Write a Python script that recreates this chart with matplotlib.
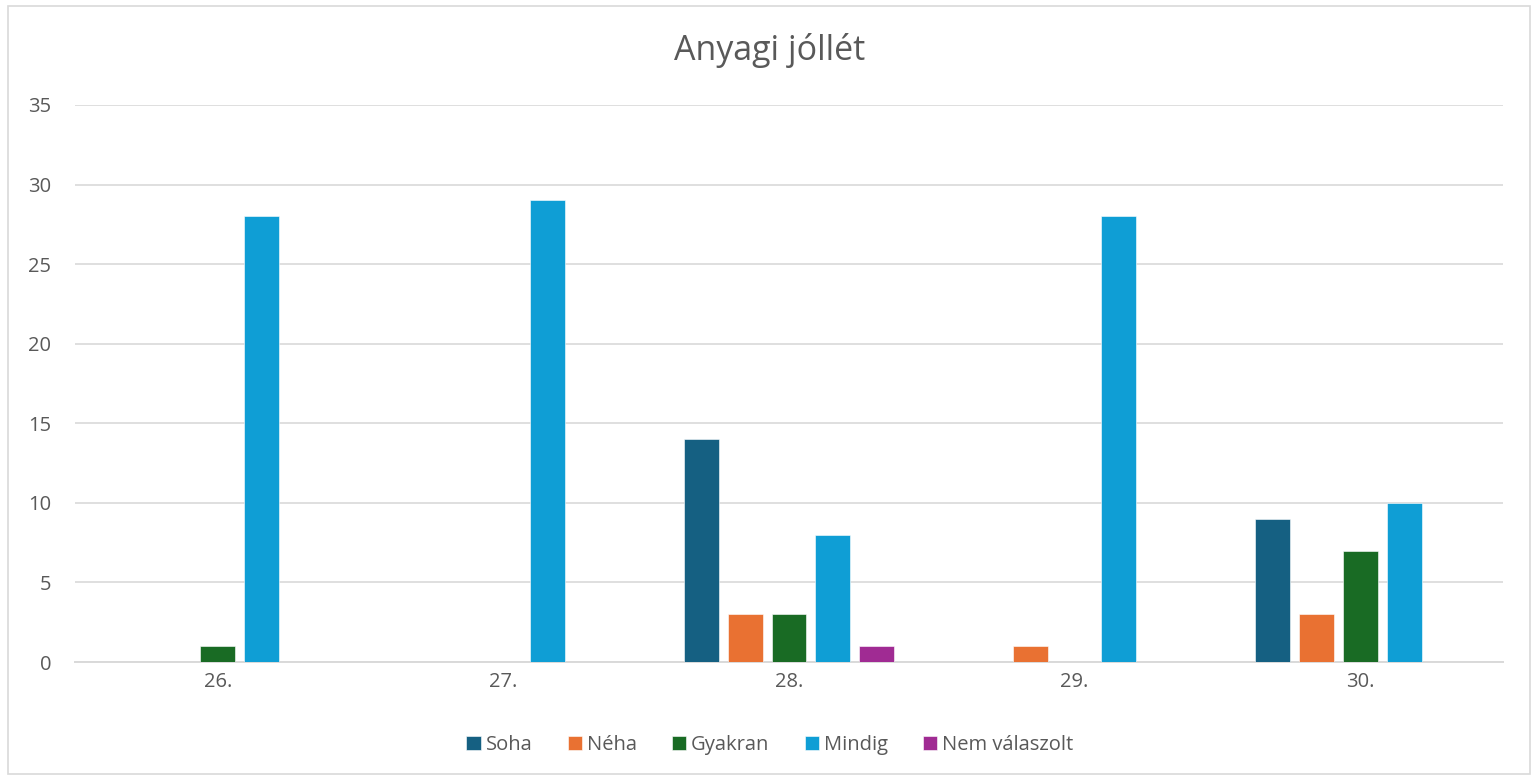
import matplotlib.pyplot as plt
import numpy as np
from matplotlib.patches import Rectangle

# Survey answers per question
questions = ["26.", "27.", "28.", "29.", "30."]
soha = [0, 0, 14, 0, 9]
neha = [0, 0, 3, 1, 3]
gyakran = [1, 0, 3, 0, 7]
mindig = [28, 29, 8, 28, 10]
nem_valaszolt = [0, 0, 1, 0, 0]

series_names = ["Soha", "Néha", "Gyakran", "Mindig", "Nem válaszolt"]
series_values = [soha, neha, gyakran, mindig, nem_valaszolt]
colors = ["#156082", "#E97132", "#196B24", "#0F9ED5", "#A02B93"]

TEXT = "#595959"
GRID = "#D9D9D9"

plt.rcParams['font.family'] = ['Open Sans', 'DejaVu Sans']

fig = plt.figure(figsize=(15.4, 7.8), dpi=100)
ax = fig.add_axes([75 / 1540, 1 - 662 / 780, (1503 - 75) / 1540, (662 - 105) / 780])

# Chart frame
fig.patches.append(Rectangle((8 / 1540, 6 / 780), 1522 / 1540, 768 / 780,
                             transform=fig.transFigure, fill=False,
                             edgecolor=GRID, linewidth=1.2))

x = np.arange(len(questions))
pitch = 0.154
width = 0.1225
for i, (name, vals, c) in enumerate(zip(series_names, series_values, colors)):
    offs = (i - 2) * pitch
    h = np.array(vals, dtype=float)
    h[h == 0] = np.nan
    ax.bar(x + offs, h, width=width, color=c, edgecolor="white",
           linewidth=0.4, label=name, zorder=3)

ax.set_xlim(-0.5, len(questions) - 0.5)
ax.set_ylim(0, 35)
ax.set_yticks(range(0, 36, 5))
ax.set_xticks(x)
ax.set_xticklabels(questions)
ax.yaxis.grid(True, color=GRID, linewidth=1.2, zorder=0)
ax.set_axisbelow(True)
for s in ["top", "right", "left"]:
    ax.spines[s].set_visible(False)
ax.spines["bottom"].set_color(GRID)
ax.spines["bottom"].set_linewidth(1.4)
ax.tick_params(axis="both", length=0, labelsize=14.5, colors=TEXT)
ax.tick_params(axis="y", pad=17)
ax.tick_params(axis="x", pad=7)

fig.text(0.5, 1 - 50 / 780, "Anyagi jóllét", ha="center", va="center",
         fontsize=24.5, color=TEXT)

leg = fig.legend(loc="center", bbox_to_anchor=(0.5, 1 - 745 / 780), ncol=5,
                 frameon=False, fontsize=14.5, handlelength=0.7, handleheight=0.7,
                 handletextpad=0.25, columnspacing=1.75, labelcolor=TEXT)

fig.savefig("out.png", dpi=100)
